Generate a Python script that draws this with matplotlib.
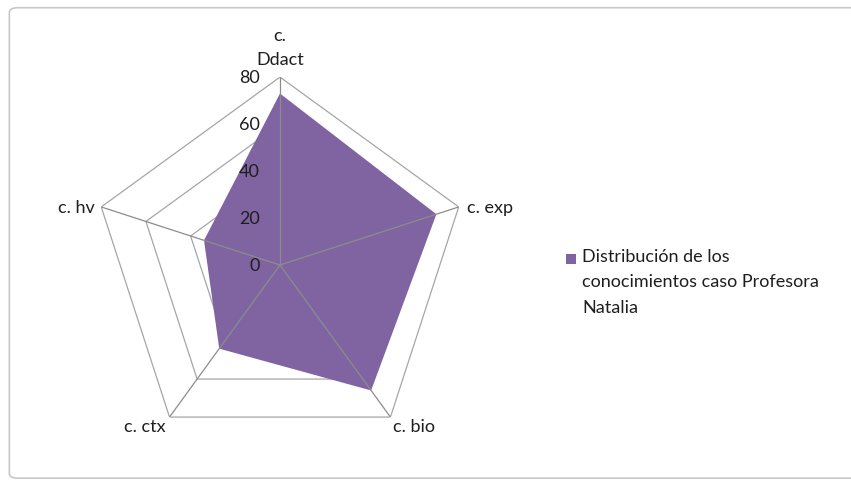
import numpy as np
import matplotlib.pyplot as plt
from matplotlib.patches import FancyBboxPatch
from matplotlib.transforms import offset_copy

plt.rcParams['font.family'] = ['Lato', 'DejaVu Sans']

categories = ["c.\nDdact", "c. exp", "c. bio", "c. ctx", "c. hv"]
values = [73, 70, 66, 44, 34]
rings = [0, 20, 40, 60, 80]
series_name = "Distribución de los\nconocimientos caso Profesora\nNatalia"

fill_color = "#8064A2"
grid_color = "#A6A6A6"
text_color = "#1E1E1E"
fs = 13

fig = plt.figure(figsize=(8.51, 4.85), dpi=100)

# chart area border
fig.patches.append(FancyBboxPatch((0.011, 0.012), 1.2, 0.97, boxstyle="round,pad=0,rounding_size=0.01",
                                  transform=fig.transFigure, facecolor="none",
                                  edgecolor="#C8C8C8", linewidth=1.2))

ax = fig.add_axes([0.108, 0.064, 0.442, 0.775], projection="polar")
ax.set_theta_zero_location("N")
ax.set_theta_direction(-1)
ax.set_ylim(0, 80)
ax.grid(False)
ax.spines["polar"].set_visible(False)
ax.set_xticks([])
ax.set_yticks([])
ax.patch.set_alpha(0)

n = len(categories)
angles = np.linspace(0, 2 * np.pi, n, endpoint=False)
closed = np.append(angles, angles[0])

# pentagon rings
for r in rings[1:]:
    ax.plot(closed, [r] * (n + 1), color=grid_color, linewidth=0.9, zorder=1)

# data polygon
vals = np.append(values, values[0])
ax.fill(closed, vals, color=fill_color, zorder=2, linewidth=0)

# spokes on top of the fill
for a in angles:
    ax.plot([a, a], [0, rings[-1]], color="#8C8C8C", linewidth=0.9, zorder=3)

# radial labels
lab_tr = offset_copy(ax.transData, fig=fig, x=-20, y=0, units="dots")
for r in rings:
    ax.text(0, r, str(r), transform=lab_tr, ha="right", va="center", fontsize=fs, color=text_color)

# category labels: (ha, va, dx, dy) per axis
placements = [
    ("center", "bottom", 0, 10),
    ("left", "center", 8, 0),
    ("left", "top", 3, -1),
    ("right", "top", -4, -1),
    ("right", "center", -6, 0),
]
for a, c, (ha, va, dx, dy) in zip(angles, categories, placements):
    tr = offset_copy(ax.transData, fig=fig, x=dx, y=dy, units="dots")
    ax.text(a, rings[-1], c, transform=tr, ha=ha, va=va, fontsize=fs,
            color=text_color, linespacing=1.6, multialignment="center")

# legend
fig.patches.append(plt.Rectangle((566 / 851, 1 - 265 / 485), 10 / 851, 10 / 485,
                                 transform=fig.transFigure, facecolor=fill_color, edgecolor="none"))
fig.text(582 / 851, 1 - 249 / 485, series_name, ha="left", va="top", fontsize=fs,
         color=text_color, linespacing=1.72)

fig.savefig("out.png", dpi=100)
